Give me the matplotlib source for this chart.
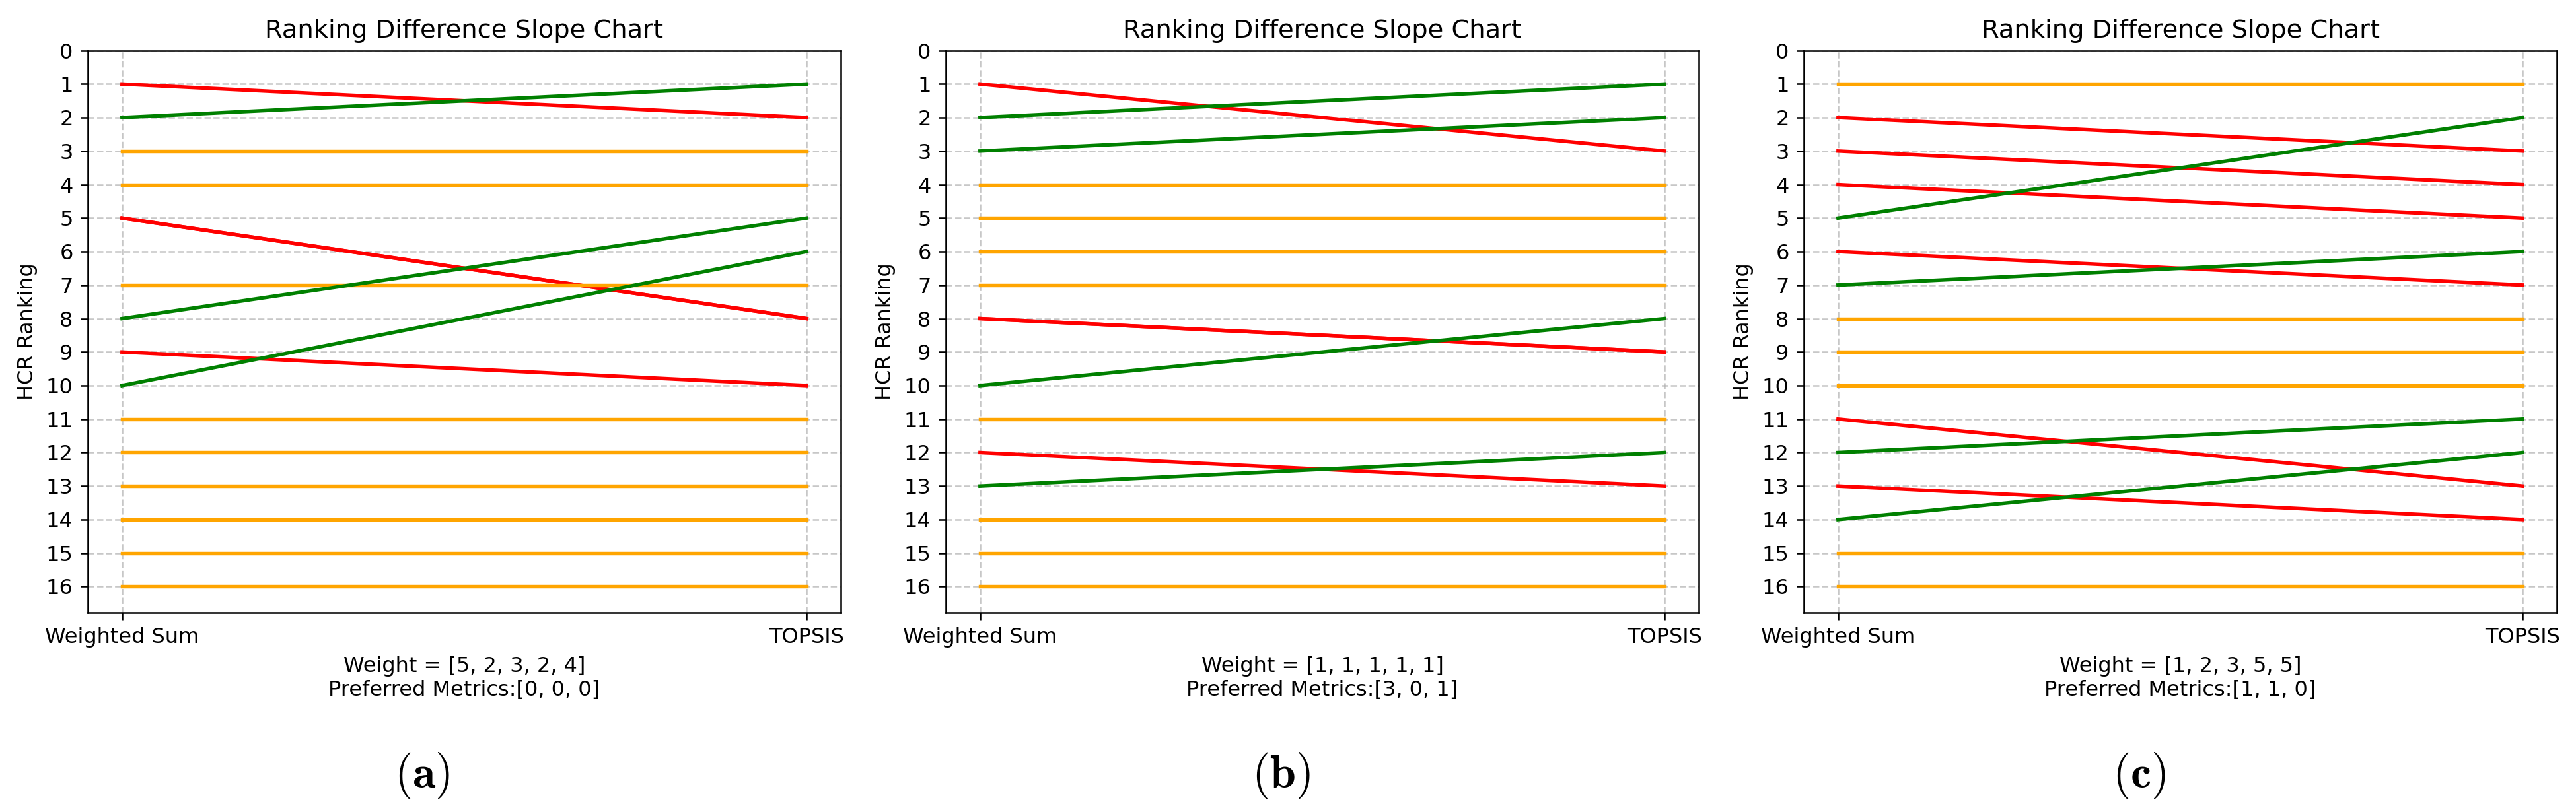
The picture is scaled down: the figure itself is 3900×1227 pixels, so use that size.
import matplotlib
matplotlib.use("Agg")
import matplotlib.pyplot as plt

plt.rcParams['font.family'] = ['DejaVu Sans']
plt.rcParams['mathtext.fontset'] = 'cm'

methods = ["Weighted Sum", "TOPSIS"]
yticks = list(range(0, 17))

ws_a = [1, 2, 3, 4, 5, 5, 7, 8, 9, 10, 11, 12, 13, 14, 15, 16]
tp_a = [2, 1, 3, 4, 8, 8, 7, 5, 10, 6, 11, 12, 13, 14, 15, 16]

ws_b = [1, 2, 3, 4, 5, 6, 7, 8, 8, 10, 11, 12, 13, 14, 15, 16]
tp_b = [3, 1, 2, 4, 5, 6, 7, 9, 9, 8, 11, 13, 12, 14, 15, 16]

ws_c = [1, 2, 3, 4, 5, 6, 7, 8, 9, 10, 11, 12, 13, 14, 15, 16]
tp_c = [1, 3, 4, 5, 2, 7, 6, 8, 9, 10, 13, 11, 14, 12, 15, 16]

xlabels = [
    "Weight = [5, 2, 3, 2, 4]\nPreferred Metrics:[0, 0, 0]",
    "Weight = [1, 1, 1, 1, 1]\nPreferred Metrics:[3, 0, 1]",
    "Weight = [1, 2, 3, 5, 5]\nPreferred Metrics:[1, 1, 0]",
]
captions = ["a", "b", "c"]
title = "Ranking Difference Slope Chart"

W, H = 3901, 1227
DPI = 230
fig = plt.figure(figsize=(W / DPI, H / DPI), dpi=DPI)

lefts = [133, 1432, 2731]
ax_w = 1140
top_px, bot_px = 76.6, 928
cap_x = [639, 1939, 3238]

panels = [(ws_a, tp_a), (ws_b, tp_b), (ws_c, tp_c)]
for i, (ws, tp) in enumerate(panels):
    ax = fig.add_axes([lefts[i] / W, 1 - bot_px / H, ax_w / W, (bot_px - top_px) / H])
    ax.grid(True, linestyle='--', alpha=0.7)
    for a, b in zip(ws, tp):
        if b < a:
            c = 'green'
        elif b > a:
            c = 'red'
        else:
            c = 'orange'
        ax.plot([0, 1], [a, b], color=c, linewidth=1.7)
    ax.set_xticks([0, 1])
    ax.set_xticklabels(methods)
    ax.set_yticks(yticks)
    ax.set_xlim(-0.05, 1.05)
    ax.set_ylim(16.78, 0)
    ax.set_ylabel("HCR Ranking")
    ax.set_xlabel(xlabels[i])
    ax.set_title(title)
    fig.text(cap_x[i] / W, 1 - 1175 / H, r'$(\mathbf{' + captions[i] + r'})$',
             fontsize=22, ha='center', va='center')

fig.savefig("out.png", dpi=DPI)
